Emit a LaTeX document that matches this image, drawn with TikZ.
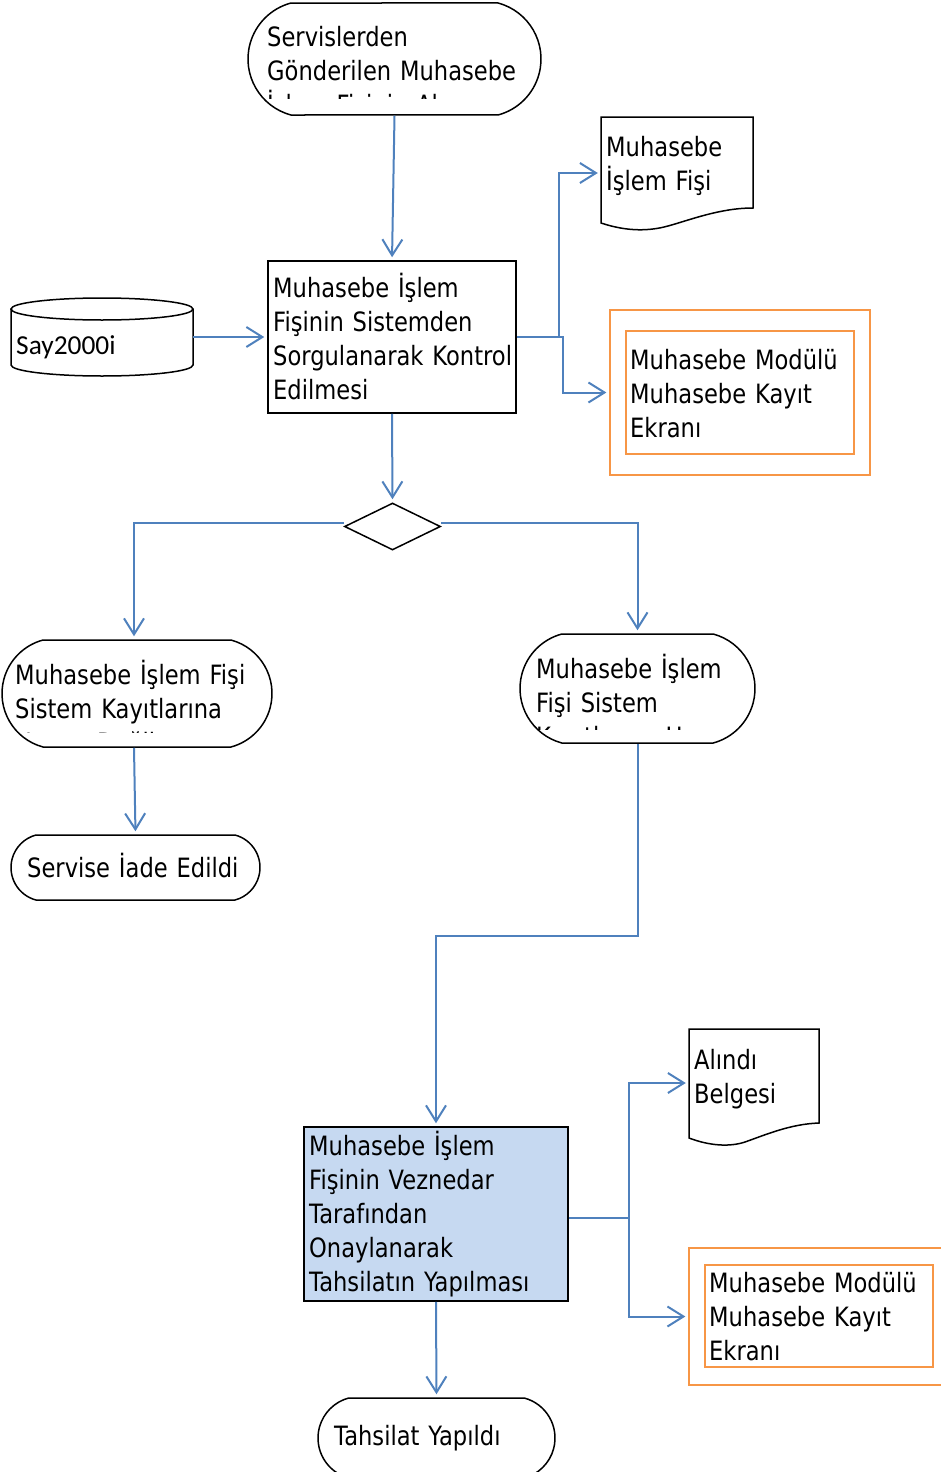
\documentclass[tikz,border=0pt]{standalone}
\usepackage{fontspec}
\setmainfont{DejaVu Sans}[FakeStretch=0.85]
\newfontfamily\sayfont{Carlito}
\usetikzlibrary{arrows.meta,shapes.geometric,shapes.misc}

\definecolor{okmavi}{HTML}{4F81BD}
\definecolor{turuncu}{HTML}{F79646}
\definecolor{dolgu}{HTML}{C6D9F1}

\tikzset{
  sekil/.style={draw=black, line width=1.5pt, inner sep=0pt},
  terminal/.style={sekil, rounded rectangle, rounded rectangle arc length=150},
  ok/.style={draw=okmavi, line width=2pt, shorten >=3pt,
    -{Straight Barb[length=16pt,width=20pt]}},
  cerceve/.style={draw=turuncu, line width=1.3pt, inner sep=0pt},
  metin/.style={anchor=base west, inner sep=0pt, align=left, text width=#1},
  metin/.default=260pt
}

\begin{document}
\begin{tikzpicture}[x=1pt, y=-1pt, font=\fontsize{26.6}{34}\selectfont]
    \useasboundingbox (0,0) rectangle (940,1472);

    % Draw shapes
    \node[terminal, minimum width=293pt, minimum height=112pt] (alim) at (394.5,59) {}; % start
    \node[sekil, rectangle, minimum width=248pt, minimum height=152pt] (kontrol) at (392,337) {};
    \node[inner sep=0pt, minimum width=182pt, minimum height=78pt] (say) at (102,337) {}; % database
    \node[inner sep=0pt, minimum width=152pt, minimum height=112pt] (fisA) at (677,173) {}; % document
    \node[cerceve, minimum width=260pt, minimum height=165pt] (ekranA) at (740,392.5) {};
    \node[cerceve, minimum width=228pt, minimum height=123pt] (ekranAic) at (740,392.5) {};
    \node[sekil, diamond, minimum width=96pt, minimum height=47pt] (karar) at (392.5,526.5) {};
    \node[terminal, minimum width=270pt, minimum height=107pt] (red) at (137,693.5) {};
    \node[terminal, minimum width=235pt, minimum height=109pt] (kayit) at (637.5,688.5) {};
    \node[terminal, minimum width=249pt, minimum height=65pt] (iade) at (135.5,867.5) {};
    \node[sekil, rectangle, fill=dolgu, minimum width=264pt, minimum height=174pt] (onay) at (436,1214) {};
    \node[inner sep=0pt, minimum width=130pt, minimum height=108pt] (fisB) at (754,1083) {}; % document
    \node[cerceve, minimum width=260pt, minimum height=137pt] (ekranB) at (819,1316.5) {};
    \node[cerceve, minimum width=228pt, minimum height=102pt] (ekranBic) at (819,1316) {};
    \node[terminal, minimum width=237pt, minimum height=80pt] (tahsilat) at (436.5,1438) {}; % end

    % Database and document outlines
    \draw[sekil] (11,309) -- (11,365) arc[start angle=180, end angle=360, x radius=91pt, y radius=11pt] -- (193,309);
    \draw[sekil] (102,309) ellipse [x radius=91pt, y radius=11pt];
    \draw[sekil] (601,117) -- (753,117) -- (753,208)
        .. controls (720,208) and (690,220) .. (668,226)
        .. controls (650,231) and (628,232) .. (601,223) -- cycle;
    \draw[sekil] (689,1029) -- (819,1029) -- (819,1123)
        .. controls (790,1124) and (765,1135) .. (745,1142)
        .. controls (730,1147) and (710,1146) .. (689,1138) -- cycle;

    % Texts
    \begin{scope}
        \clip (255,0) rectangle (530,98);
        \node[metin] (alim-t) at (267,47) {Servislerden\\Gönderilen Muhasebe\\İşlem Fişinin Alınması};
    \end{scope}
    \node[metin] (kontrol-t) at (273,297) {Muhasebe İşlem\\Fişinin Sistemden\\Sorgulanarak Kontrol\\Edilmesi};
    \node[metin, font=\sayfont\fontsize{27.4}{34}\selectfont] (say-t) at (16,354) {Say2000i};
    \node[metin] (fisA-t) at (606,156) {Muhasebe\\İşlem Fişi};
    \node[metin] (ekranA-t) at (630,369) {Muhasebe Modülü\\Muhasebe Kayıt\\Ekranı};
    \begin{scope}
        \clip (10,630) rectangle (262,732);
        \node[metin] (red-t) at (15,684) {Muhasebe İşlem Fişi\\Sistem Kayıtlarına\\Uygun Değil};
    \end{scope}
    \begin{scope}
        \clip (528,630) rectangle (745,729.5);
        \node[metin] (kayit-t) at (536,678) {Muhasebe İşlem\\Fişi Sistem\\Kayıtlarına Uygun};
    \end{scope}
    \node[metin] (iade-t) at (27,877) {Servise İade Edildi};
    \node[metin] (onay-t) at (309,1155) {Muhasebe İşlem\\Fişinin Veznedar\\Tarafından\\Onaylanarak\\Tahsilatın Yapılması};
    \node[metin] (fisB-t) at (694,1069) {Alındı\\Belgesi};
    \node[metin] (ekranB-t) at (709,1292) {Muhasebe Modülü\\Muhasebe Kayıt\\Ekranı};
    \node[metin] (tahsilat-t) at (334,1445) {Tahsilat Yapıldı};

    % Connectors
    \draw[ok] (alim.south) -- (kontrol.north);
    \draw[ok] (say.east) -- (kontrol.west);
    \draw[ok] (kontrol.east) -- ++(42,0) |- (fisA.west);
    \draw[ok] (kontrol.east) -- ++(46,0) |- (ekranA.west);
    \draw[ok] (kontrol.south) -- (karar.north);
    \draw[ok] ([yshift=4pt]karar.west) -| ([xshift=-3pt]red.north);
    \draw[ok] ([yshift=4pt]karar.east) -| (kayit.north);
    \draw[ok] ([xshift=-3pt]red.south) -- (iade.north);
    \draw[ok] (kayit.south) -- ++(0,192) -| (onay.north);
    \draw[ok] ([yshift=-4pt]onay.east) -- ++(60,0) |- (fisB.west);
    \draw[ok] ([yshift=-4pt]onay.east) -- ++(60,0) |- (ekranB.west);
    \draw[ok] (onay.south) -- (tahsilat.north);

\end{tikzpicture}
\end{document}
